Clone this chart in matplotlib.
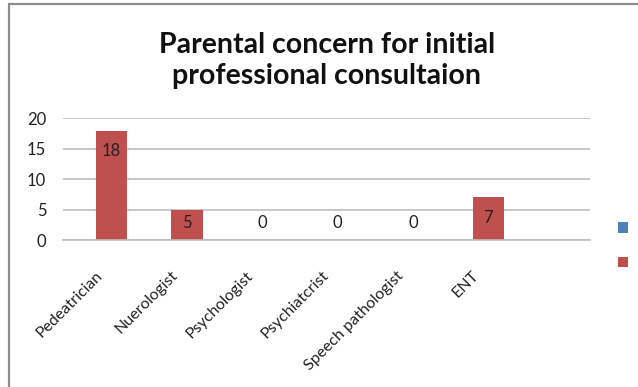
import matplotlib
matplotlib.use("Agg")
import matplotlib.pyplot as plt
from matplotlib.patches import Rectangle

categories = ["Pedeatrician", "Nuerologist", "Psychologist", "Psychiatcrist",
              "Speech pathologist", "ENT"]
series1 = [0, 0, 0, 0, 0, 0]          # blue series, empty in the chart
series2 = [18, 5, 0, 0, 0, 7]
yticks = [0, 5, 10, 15, 20]

RED, BLUE, GRID, INK = "#C0504D", "#4F81BD", "#BEBEBE", "#222222"
plt.rcParams["font.family"] = ["Lato", "DejaVu Sans"]

fig = plt.figure(figsize=(6.38, 3.87), dpi=100)
ax = fig.add_axes([0.0987, 0.3798, 0.8261, 0.3140])

xs = list(range(len(categories)))
off = 0.147
b1 = ax.bar([x - off - 0.413 for x in xs], series1, width=0.413, color=BLUE)
b2 = ax.bar([x + off for x in xs], series2, width=0.413, color=RED)

for x, v in zip(xs, series2):
    ax.text(x + off, max(v - 3.3, 2.8), f"{v}", ha="center", va="center",
            fontsize=12, color=INK)

ax.set_xlim(-0.5, 6.5)
ax.set_ylim(0, 20)
ax.set_yticks(yticks)
ax.set_xticks(xs)
ax.set_xticklabels(categories, rotation=45, ha="right", va="center",
                   rotation_mode="anchor", fontsize=11.5, color=INK)
ax.tick_params(axis="y", length=0, labelsize=12, labelcolor=INK, pad=12)
ax.tick_params(axis="x", length=0, labelcolor=INK, pad=24)
ax.grid(True, axis="y", color=GRID, lw=1.2)
ax.set_axisbelow(True)
for s in ["top", "right", "left"]:
    ax.spines[s].set_visible(False)
ax.spines["bottom"].set_color(GRID)
ax.spines["bottom"].set_linewidth(1.2)

fig.text(0.512, 0.843, "Parental concern for initial\nprofessional consultaion",
         ha="center", va="center", fontsize=20.5, fontweight="bold",
         color="#111111", linespacing=1.25)

fig.legend([b1, b2], ["", ""], loc="center left",
           bbox_to_anchor=(0.948, 0.365), frameon=False,
           handlelength=0.7, handleheight=0.7, labelspacing=1.4,
           fontsize=10.5)

# outer chart border (right and bottom edges lie outside the crop)
fig.add_artist(Rectangle((8.5 / 638, -0.2), 1.2, 1.2 - 4 / 387,
                         transform=fig.transFigure, fill=False,
                         edgecolor="#8C8C8C", lw=1.6, clip_on=False))

fig.savefig("out.png", dpi=100)
